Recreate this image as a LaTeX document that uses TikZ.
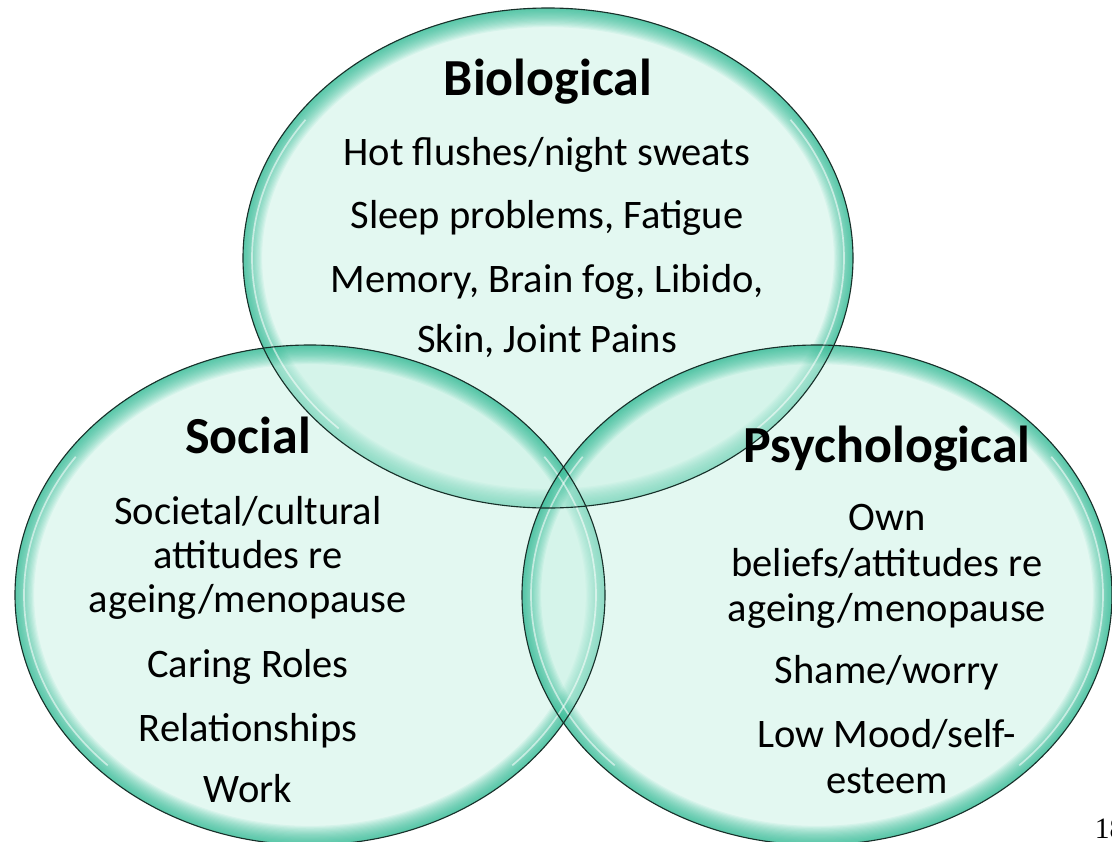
\documentclass[tikz,border=0pt]{standalone}
\usepackage{fontspec}
\setmainfont{Carlito}
\newfontfamily\numfont{Liberation Serif}
\usepackage{tikz}

\definecolor{mint}{RGB}{199,241,227}
\definecolor{glow}{RGB}{34,182,142}
\definecolor{rim}{RGB}{24,48,42}

\tikzset{
  heading/.style={anchor=base, font=\fontsize{37}{40}\selectfont\bfseries},
  item/.style={anchor=base, font=\fontsize{28.8}{31}\selectfont},
  gloss/.style={white, line width=1.2pt, draw opacity=0.55},
}

% one see-through bubble: centre x, centre y, x radius, y radius
\newcommand{\bubble}[4]{%
  \fill[mint, fill opacity=0.5] (#1,#2) ellipse [x radius=#3, y radius=#4];
  \begin{scope}
    \clip (#1,#2) ellipse [x radius=#3, y radius=#4];
    \foreach \k in {1,...,16}
      \draw[glow, line width=1.7*\k pt, draw opacity=0.07] (#1,#2) ellipse [x radius=#3, y radius=#4];
  \end{scope}
}

\begin{document}
\begin{tikzpicture}[x=0.025cm, y=-0.025cm]
\useasboundingbox (0,0) rectangle (1112,842);
% Draw bubbles
\bubble{548}{258}{305}{250}
\bubble{310}{595}{295}{250}
\bubble{817}{595}{295}{250}
% Draw shine
\foreach \cx/\cy/\rx/\ry in {548/258/296/241, 310/595/286/241, 817/595/286/241} {
  \draw[gloss] (\cx,\cy) ++(135:{\rx} and {\ry}) arc [start angle=135, end angle=215, x radius=\rx, y radius=\ry];
  \draw[gloss] (\cx,\cy) ++(-35:{\rx} and {\ry}) arc [start angle=-35, end angle=45, x radius=\rx, y radius=\ry];
}
% Draw outlines
\draw[rim, line width=0.8pt] (548,258) ellipse [x radius=305, y radius=250];
\draw[rim, line width=0.8pt] (310,595) ellipse [x radius=295, y radius=250];
\draw[rim, line width=0.8pt] (817,595) ellipse [x radius=295, y radius=250];
% Draw labels
\node[heading] (bio) at (548,95) {Biological};
\foreach \y/\t [count=\i] in {165/{Hot flushes/night sweats}, 228/{Sleep problems, Fatigue},
    292/{Memory, Brain fog, Libido,}, 352/{Skin, Joint Pains}}
  \node[item] (bio\i) at (547,\y) {\t};
\node[heading] (soc) at (248,453) {Social};
\foreach \y/\t [count=\i] in {524/{Societal/cultural}, 568/{attitudes re}, 612/{ageing/menopause},
    677/{Caring Roles}, 741/{Relationships}, 802/{Work}}
  \node[item] (soc\i) at (248,\y) {\t};
\node[heading] (psy) at (887,462) {Psychological};
\foreach \y/\t [count=\i] in {530/{Own}, 576/{beliefs/attitudes re}, 621/{ageing/menopause},
    683/{Shame/worry}, 747/{Low Mood/self-}, 793/{esteem}}
  \node[item] (psy\i) at (887,\y) {\t};
\node[anchor=base west, font=\numfont\fontsize{21}{21}\selectfont] (page) at (1090,838) {18};
\end{tikzpicture}
\end{document}
